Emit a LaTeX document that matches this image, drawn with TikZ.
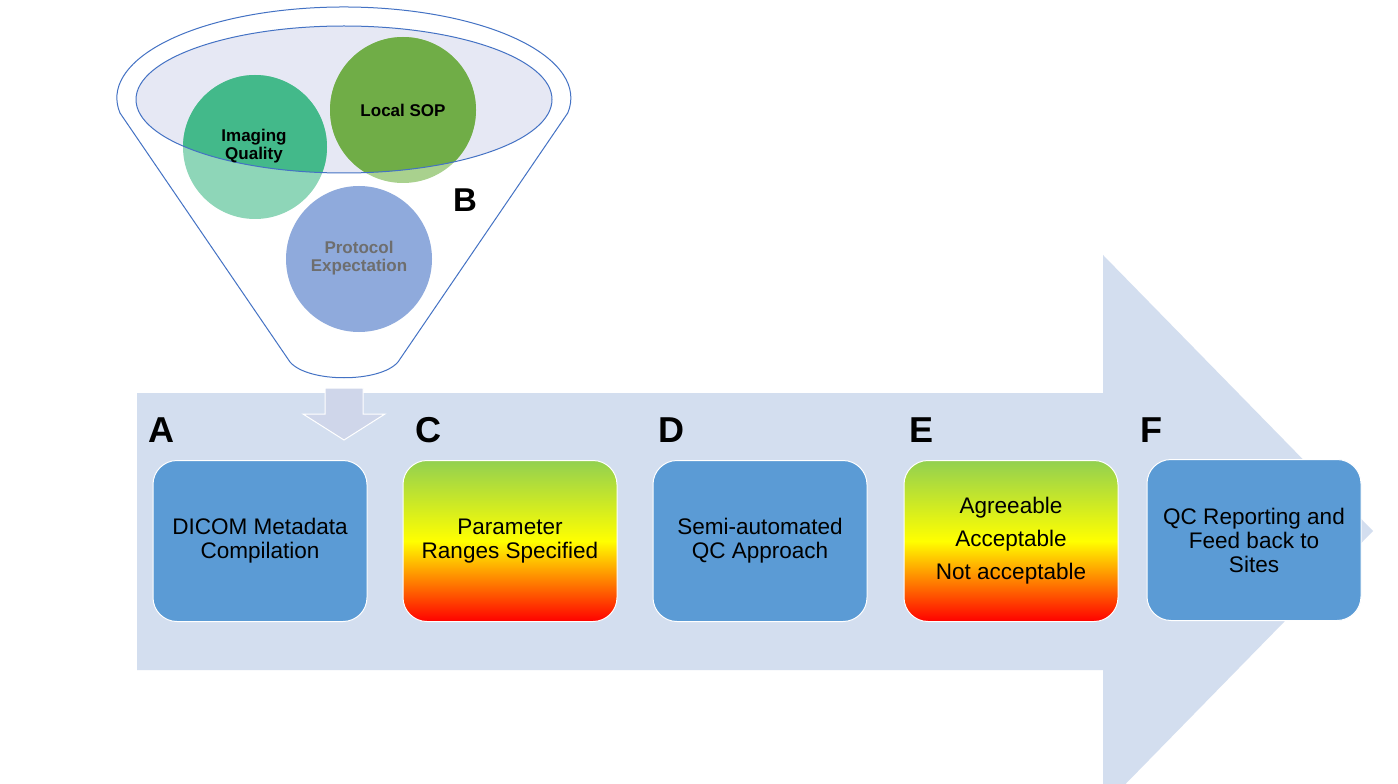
\documentclass[tikz,border=0pt]{standalone}
\usepackage{fontspec}
\setmainfont{Liberation Sans}
\definecolor{arrowbg}{HTML}{D3DEEF}
\definecolor{boxblue}{HTML}{5B9BD5}
\definecolor{funnelline}{HTML}{4472C4}
\definecolor{ellfill}{HTML}{E6E8F4}
\definecolor{iqdark}{HTML}{43B98A}
\definecolor{iqlight}{HTML}{8ED6B8}
\definecolor{sopdark}{HTML}{70AD47}
\definecolor{soplight}{HTML}{A9D18E}
\definecolor{protoc}{HTML}{8FAADC}
\definecolor{prototext}{HTML}{6E6E6E}
\definecolor{gyrgreen}{HTML}{92D050}
\definecolor{downarrow}{HTML}{CFD6EA}
\begin{document}
\begin{tikzpicture}[x=0.75pt,y=-0.75pt,
  stepbox/.style={draw=white, line width=0.75pt, rounded corners=18pt, minimum width=160.5pt, minimum height=120.75pt, align=center, font=\fontsize{16.9}{18}\selectfont, inner sep=0pt},
  bluebox/.style={stepbox, fill=boxblue},
  gradbox/.style={stepbox, top color=gyrgreen, bottom color=red, middle color=yellow},
  letter/.style={font=\fontsize{27}{30}\selectfont\bfseries, inner sep=0pt},
  circtext/.style={font=\fontsize{12.75}{13.5}\selectfont\bfseries, align=center, inner sep=0pt},
  funnelstroke/.style={draw=funnelline, line width=0.75pt}]
\useasboundingbox (0,0) rectangle (1398,784);
\fill[white] (0,0) rectangle (1398,784);
% big arrow
\begin{scope}
\clip (0,0) rectangle (1398,784);
\fill[arrowbg] (137,393) -- (1103,393) -- (1103,255) -- (1373,531) -- (1103,807) -- (1103,670) -- (137,670) -- cycle;
\end{scope}
% funnel
\draw[funnelstroke, fill=white] (120,113) arc[start angle=170.5, end angle=369.5, x radius=227, y radius=91] -- (398,362) .. controls (380,383) and (308,383) .. (290,362) -- cycle;
\fill[ellfill] (344,99.5) ellipse [x radius=208, y radius=73.5];
\fill[iqlight] (255,147) circle[radius=72];
\fill[soplight] (403,110) circle[radius=73];
\begin{scope}
\clip (344,99.5) ellipse [x radius=208, y radius=73.5];
\fill[iqdark] (255,147) circle[radius=72];
\fill[sopdark] (403,110) circle[radius=73];
\end{scope}
\draw[funnelstroke] (344,99.5) ellipse [x radius=208, y radius=73.5];
\fill[protoc] (359,259) circle[radius=73];
\node[circtext] (iq) at (254,146) {Imaging\\Quality};
\node[circtext] (sop) at (403,110) {Local SOP};
\node[circtext, text=prototext] (pe) at (359,258) {Protocol\\Expectation};
\node[font=\fontsize{24.75}{26}\selectfont\bfseries, inner sep=0pt] (lb) at (465,200) {B};
% down arrow
\draw[white, fill=downarrow, line width=0.75pt] (325,388) -- (363,388) -- (363,414) -- (385,414) -- (344,440) -- (303,414) -- (325,414) -- cycle;
% boxes
\node[bluebox] (A) at (260,541) {DICOM Metadata\\Compilation};
\node[gradbox] (C) at (510,541) {Parameter\\Ranges Specified};
\node[bluebox] (D) at (760,541) {Semi-automated\\QC Approach};
\node[gradbox] (E) at (1011,541) {Agreeable\\[6.75pt]Acceptable\\[6.75pt]Not acceptable};
\node[bluebox] (F) at (1254,540) {QC Reporting and\\Feed back to\\Sites};
% letters
\node[letter] (la) at (161,430) {A};
\node[letter] (lc) at (428,430) {C};
\node[letter] (ld) at (671,430) {D};
\node[letter] (le) at (921,430) {E};
\node[letter] (lf) at (1151,430) {F};
\end{tikzpicture}
\end{document}
